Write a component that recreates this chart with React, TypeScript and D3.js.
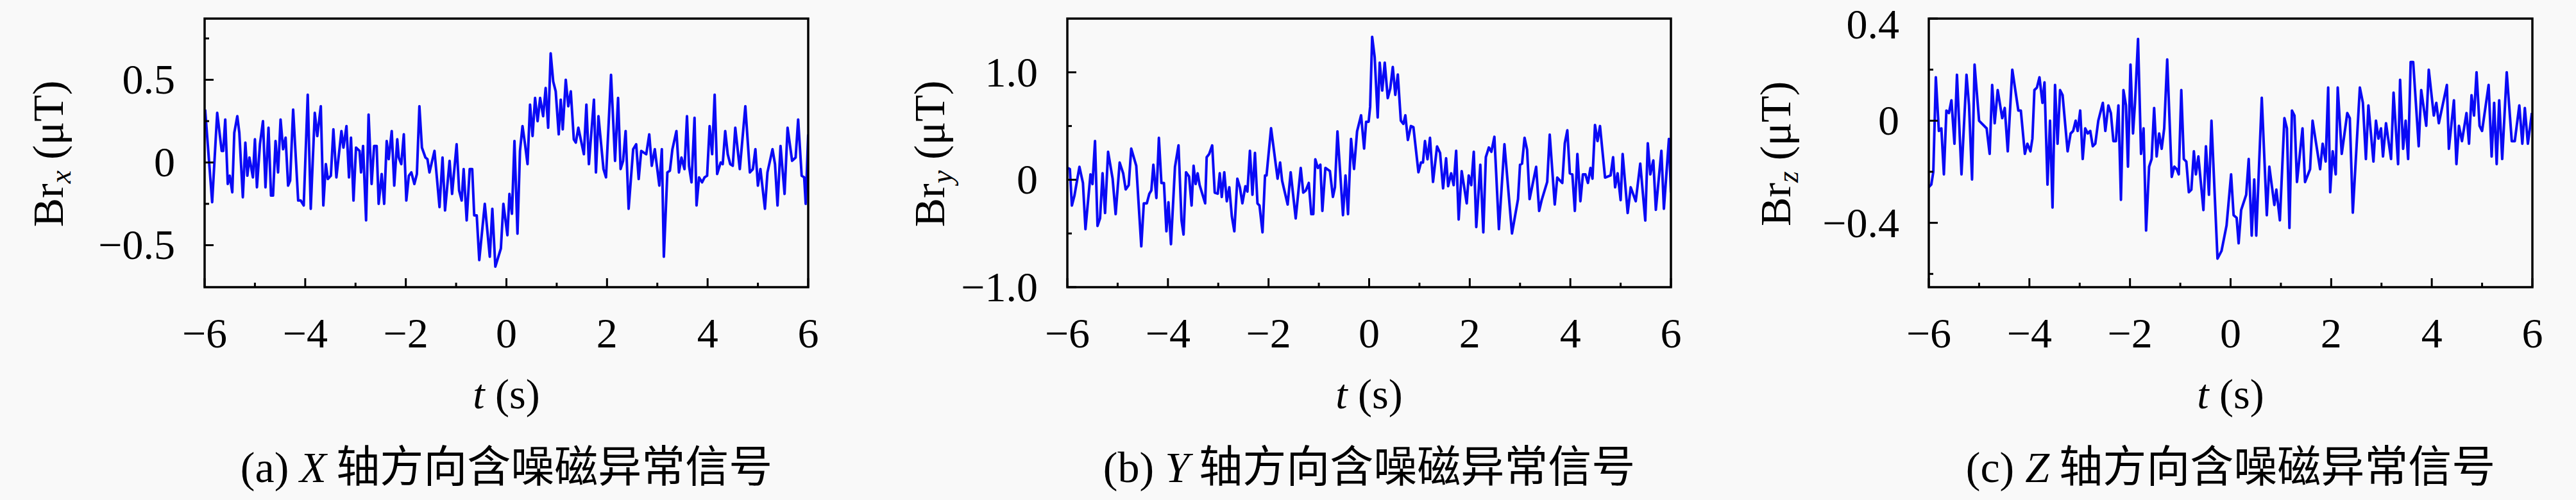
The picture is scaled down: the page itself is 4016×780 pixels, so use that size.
import * as d3 from "d3";

// time (s) and field (μT)
const T_A = [-5.99,-5.85,-5.75,-5.66,-5.63,-5.59,-5.54,-5.5,-5.45,-5.41,-5.35,-5.31,-5.24,-5.19,-5.15,-5.11,-5.08,-5.04,-5,-4.96,-4.9,-4.84,-4.79,-4.73,-4.68,-4.64,-4.59,-4.54,-4.49,-4.44,-4.39,-4.34,-4.3,-4.24,-4.14,-4.09,-4.03,-3.95,-3.89,-3.81,-3.76,-3.69,-3.64,-3.59,-3.55,-3.49,-3.44,-3.38,-3.28,-3.24,-3.18,-3.13,-3.09,-3.04,-2.99,-2.92,-2.89,-2.85,-2.79,-2.74,-2.68,-2.63,-2.58,-2.54,-2.48,-2.43,-2.38,-2.34,-2.28,-2.23,-2.17,-2.14,-2.09,-2.04,-1.99,-1.94,-1.89,-1.83,-1.78,-1.73,-1.68,-1.61,-1.57,-1.53,-1.43,-1.33,-1.27,-1.22,-1.13,-1.08,-0.99,-0.94,-0.89,-0.85,-0.79,-0.73,-0.68,-0.64,-0.59,-0.54,-0.43,-0.33,-0.28,-0.22,-0.11,-0.06,0.02,0.06,0.11,0.16,0.22,0.27,0.32,0.37,0.42,0.47,0.52,0.57,0.62,0.67,0.73,0.78,0.83,0.88,0.93,0.98,1.04,1.08,1.12,1.18,1.23,1.28,1.34,1.38,1.43,1.54,1.59,1.64,1.74,1.78,1.83,1.93,1.98,2.08,2.16,2.22,2.27,2.32,2.37,2.43,2.52,2.58,2.63,2.68,2.78,2.84,2.89,2.95,3.04,3.09,3.13,3.2,3.25,3.3,3.38,3.43,3.48,3.54,3.59,3.63,3.68,3.74,3.78,3.83,3.89,3.94,3.99,4.04,4.09,4.14,4.19,4.26,4.3,4.35,4.4,4.45,4.5,4.55,4.64,4.75,4.84,4.9,4.95,5,5.05,5.14,5.19,5.29,5.34,5.39,5.45,5.53,5.59,5.68,5.75,5.8,5.87,5.92,5.95,6];
const V_A = [0.32,-0.24,0.3,0.07,0.07,0.26,-0.13,-0.08,-0.18,0.18,0.28,0.18,-0.21,0.12,-0.08,0.03,-0.02,-0.09,0.14,-0.15,0.11,0.25,-0.15,0.21,-0.2,-0.2,0.13,-0.06,0.26,0.08,0.15,-0.14,-0.11,0.32,-0.23,-0.23,-0.26,0.41,-0.28,0.3,0.16,0.34,-0.26,-0.01,-0.1,-0.08,0.2,-0.09,0.19,0.09,0.22,-0.09,0.15,-0.23,0.09,0.07,-0.06,0.1,-0.35,0.29,-0.13,0.1,0.1,-0.25,-0.07,-0.25,0.13,0.02,0.19,-0.14,0.14,0.03,-0.01,0.17,-0.23,-0.08,-0.06,-0.13,-0.07,0.34,0.09,0.03,0.02,-0.06,0.07,-0.27,0.03,-0.29,0.01,-0.19,0.11,-0.17,-0.23,-0.04,-0.35,-0.04,-0.04,-0.32,-0.32,-0.59,-0.25,-0.57,-0.28,-0.63,-0.52,-0.25,-0.44,-0.19,-0.31,0.13,-0.43,0.07,0.22,0.11,-0.01,0.35,0.16,0.39,0.25,0.39,0.28,0.45,0.21,0.66,0.49,0.43,0.17,0.38,0.2,0.5,0.34,0.43,0.14,0.12,0.21,0.05,0.35,-0.01,0.38,-0.06,0.28,-0.04,-0.09,0.53,0.01,0.39,-0.04,0.01,0.19,-0.28,0.08,0.11,-0.1,0.07,0.05,0.17,-0.02,0.08,-0.14,0.08,-0.57,-0.06,-0.05,0.08,0.19,-0.06,0.03,-0.04,0.28,-0.02,-0.12,0.27,-0.26,-0.09,-0.12,-0.09,-0.08,0.22,0.05,0.41,-0.07,0,-0.01,0.19,0.05,-0.01,-0.02,0.21,-0.04,0.34,-0.06,-0.04,0.08,-0.14,-0.04,-0.28,-0.06,0.08,-0.01,-0.26,0.1,-0.19,0.21,0.01,0.03,0.26,-0.08,-0.09,-0.25,0.17];

const T_B = [-5.99,-5.95,-5.91,-5.86,-5.76,-5.69,-5.64,-5.54,-5.5,-5.45,-5.4,-5.35,-5.3,-5.25,-5.19,-5.1,-5.04,-4.96,-4.89,-4.84,-4.78,-4.73,-4.63,-4.53,-4.48,-4.42,-4.37,-4.33,-4.29,-4.23,-4.18,-4.13,-4.08,-4.03,-3.99,-3.94,-3.86,-3.79,-3.73,-3.69,-3.64,-3.58,-3.53,-3.49,-3.45,-3.41,-3.37,-3.26,-3.23,-3.18,-3.12,-3.07,-3.01,-2.97,-2.93,-2.88,-2.83,-2.78,-2.73,-2.68,-2.62,-2.57,-2.52,-2.46,-2.42,-2.37,-2.32,-2.27,-2.22,-2.18,-2.12,-2.07,-2.04,-1.95,-1.82,-1.77,-1.73,-1.62,-1.56,-1.46,-1.36,-1.31,-1.26,-1.2,-1.15,-1.11,-1.07,-1.02,-0.97,-0.93,-0.87,-0.78,-0.72,-0.68,-0.63,-0.52,-0.47,-0.42,-0.36,-0.3,-0.24,-0.16,-0.1,-0.06,-0.01,0.02,0.06,0.11,0.17,0.21,0.26,0.31,0.37,0.42,0.47,0.52,0.57,0.63,0.68,0.72,0.77,0.83,0.88,0.98,1.03,1.07,1.11,1.16,1.21,1.27,1.35,1.41,1.47,1.53,1.57,1.63,1.68,1.73,1.78,1.84,1.94,1.98,2.03,2.08,2.13,2.21,2.27,2.32,2.38,2.43,2.49,2.58,2.69,2.84,2.96,3,3.04,3.09,3.14,3.19,3.32,3.38,3.43,3.54,3.59,3.69,3.74,3.84,3.89,3.94,3.99,4.04,4.09,4.14,4.2,4.25,4.3,4.35,4.4,4.44,4.49,4.54,4.59,4.69,4.8,4.85,4.89,4.94,5,5.04,5.14,5.2,5.3,5.39,5.49,5.54,5.59,5.65,5.7,5.81,5.86,5.96,6];
const V_B = [0.11,0.1,-0.24,-0.15,0.12,-0.03,-0.46,0.05,-0.04,0.36,-0.43,-0.36,0.06,-0.31,0.26,0.01,-0.32,0.16,0.06,-0.09,-0.05,0.29,0.13,-0.62,-0.22,-0.22,-0.13,-0.1,0.14,-0.17,0.39,-0.03,-0.03,-0.48,-0.21,-0.6,0.12,0.32,-0.38,-0.51,0.07,0.03,-0.24,0.13,-0.04,0.06,-0.05,-0.22,0.21,0.24,0.32,-0.12,-0.13,0.06,-0.16,0.07,-0.2,-0.07,-0.34,-0.48,0.01,-0.07,-0.22,-0.06,-0.11,0.27,-0.14,0.25,-0.22,-0.24,-0.49,0.04,0.04,0.48,0.01,0.16,-0.01,-0.23,0.07,-0.36,0.11,-0.12,-0.1,-0.03,-0.32,-0.32,0.19,0.11,0.14,-0.29,0.11,0.08,-0.16,-0.07,0.45,-0.33,0.04,-0.32,0.38,0.1,0.45,0.6,0.29,0.54,0.54,0.68,1.33,1.14,0.58,1.09,0.83,1.09,0.76,0.85,1.05,0.79,0.98,0.55,0.52,0.6,0.37,0.5,0.49,0.07,0.16,0.16,0.36,0.19,0.39,-0.02,0.31,0.25,-0.08,0.2,-0.06,0.06,-0.05,0.27,-0.37,0.08,-0.22,0.04,-0.05,0.26,-0.44,0.14,-0.49,0.21,0.3,0.26,0.4,-0.46,0.33,-0.5,-0.18,0.14,0.15,0.39,0.28,-0.18,0.12,-0.29,-0.19,-0.02,0.42,-0.23,0.02,-0.03,0.34,0.46,0.06,0.05,-0.29,0.24,-0.2,0.05,0.05,-0.03,0.11,0.01,0.51,0.36,0.5,0.02,0.04,0.21,-0.07,0.06,-0.19,0.24,-0.31,-0.07,-0.2,0.15,-0.38,0.34,0.05,0.18,-0.28,0.27,-0.27,0.38,-0.12];

const T_C = [-6,-5.95,-5.91,-5.86,-5.8,-5.75,-5.7,-5.65,-5.6,-5.55,-5.49,-5.44,-5.35,-5.25,-5.2,-5.14,-5.09,-5,-4.85,-4.79,-4.74,-4.69,-4.63,-4.54,-4.49,-4.43,-4.34,-4.22,-4.17,-4.09,-4.04,-3.98,-3.94,-3.9,-3.85,-3.8,-3.74,-3.7,-3.64,-3.59,-3.54,-3.49,-3.44,-3.39,-3.34,-3.24,-3.18,-3.13,-3.08,-3.04,-2.99,-2.94,-2.89,-2.84,-2.79,-2.74,-2.69,-2.63,-2.54,-2.49,-2.43,-2.38,-2.33,-2.28,-2.23,-2.18,-2.13,-2.08,-2.04,-1.99,-1.94,-1.9,-1.84,-1.78,-1.73,-1.68,-1.62,-1.57,-1.52,-1.47,-1.42,-1.37,-1.32,-1.26,-1.17,-1.12,-1.07,-1.03,-0.98,-0.93,-0.88,-0.83,-0.78,-0.73,-0.69,-0.64,-0.54,-0.49,-0.43,-0.38,-0.26,-0.18,-0.08,0.01,0.06,0.12,0.16,0.21,0.31,0.36,0.42,0.47,0.51,0.62,0.72,0.77,0.87,0.91,0.98,1.07,1.12,1.17,1.22,1.27,1.32,1.43,1.48,1.58,1.63,1.78,1.83,1.89,1.94,1.98,2.03,2.09,2.13,2.21,2.32,2.37,2.43,2.57,2.63,2.69,2.74,2.84,2.89,2.94,2.99,3.03,3.09,3.19,3.24,3.33,3.37,3.43,3.48,3.53,3.58,3.63,3.74,3.79,3.89,3.94,4.04,4.09,4.14,4.3,4.34,4.44,4.49,4.54,4.6,4.69,4.74,4.79,4.84,4.89,4.95,5,5.13,5.19,5.24,5.29,5.34,5.4,5.49,5.59,5.65,5.74,5.8,5.85,5.91,5.99];
const V_C = [-0.26,-0.25,-0.2,0.17,-0.04,-0.03,-0.21,0.04,0.03,0.08,-0.09,0.18,-0.21,0.18,0.06,-0.23,0.22,0,-0.03,-0.13,0.14,-0.01,0.12,0.01,0.05,-0.12,0.2,0.04,0.04,-0.13,-0.09,-0.12,-0.07,0.12,0.13,0.17,0.07,0.15,-0.25,0,-0.34,0.14,-0.09,0.12,0.1,-0.12,-0.05,-0.04,0,-0.04,0.04,-0.15,-0.03,-0.05,-0.04,-0.1,-0.09,0,0.07,-0.04,0.06,0.03,-0.08,-0.08,0.06,-0.31,0.12,0.06,-0.18,0.22,-0.05,0.07,0.32,-0.13,-0.03,-0.43,-0.18,-0.15,0.05,-0.14,-0.05,-0.11,-0.03,0.24,-0.22,-0.18,-0.19,-0.21,0.12,-0.15,-0.16,-0.28,-0.27,-0.12,-0.21,-0.14,-0.35,-0.1,-0.29,0,-0.54,-0.51,-0.41,-0.21,-0.37,-0.38,-0.48,-0.35,-0.29,-0.15,-0.45,-0.23,-0.45,0.09,-0.37,-0.18,-0.33,-0.27,-0.39,0.01,-0.03,-0.42,0.04,0.02,-0.24,-0.03,-0.24,-0.19,0,-0.19,-0.09,-0.16,0.13,-0.28,-0.12,-0.21,0.13,-0.13,0.03,0.01,-0.36,0.13,0.07,-0.15,0.06,-0.16,0,-0.07,-0.03,-0.14,-0.01,-0.15,0.11,-0.17,0.16,-0.11,0,-0.15,0.23,0.23,-0.1,0.12,-0.02,0.2,0.02,0.07,-0.01,0.14,-0.11,0.08,-0.17,-0.02,-0.08,0.03,-0.09,0.1,0.02,0.19,-0.02,-0.04,0.14,-0.14,0.07,-0.17,0.08,-0.15,0.19,-0.08,-0.08,0.06,-0.09,0.05,-0.09,0.03];

const X_MAJOR = [-6, -4, -2, 0, 2, 4, 6];
const X_MINOR = [-5, -3, -1, 1, 3, 5];
const X_LABELS = ["−6", "−4", "−2", "0", "2", "4", "6"];

const PANELS = [
  { id: "a", axis: "X", sub: "x", t: T_A, v: V_A, domain: [-0.754, 0.87], major: [-0.5, 0, 0.5], minor: [-0.25, 0.25, 0.75], labels: ["−0.5", "0", "0.5"], left: 319, ylab: 98 },
  { id: "b", axis: "Y", sub: "y", t: T_B, v: V_B, domain: [-1, 1.5], major: [-1, 0, 1], minor: [-0.5, 0.5], labels: ["−1.0", "0", "1.0"], left: 1664, ylab: 1472 },
  { id: "c", axis: "Z", sub: "z", t: T_C, v: V_C, domain: [-0.652, 0.4], major: [-0.4, 0, 0.4], minor: [-0.6, -0.2, 0.2], labels: ["−0.4", "0", "0.4"], left: 3007, ylab: 2791 },
];

const W = 4016;
const H = 780;
const PW = 941;
const TOP = 29;
const BOTTOM = 448;
const SERIF = "'Liberation Serif', 'DejaVu Serif', serif";
const CJK = "'Noto Sans CJK SC', sans-serif";

function Panel({ p }: { p: (typeof PANELS)[number] }) {
  const x = d3.scaleLinear().domain([-6, 6]).range([p.left, p.left + PW]);
  const y = d3.scaleLinear().domain(p.domain).range([BOTTOM, TOP]);
  const pts = p.t.map((t, i) => [t, p.v[i]] as [number, number]);
  const path = d3.line<[number, number]>().x(d => x(d[0])).y(d => y(d[1]))(pts) ?? "";
  const cx = p.left + PW / 2;
  const clipId = `clip-${p.id}`;

  return (
    <g>
      <defs>
        <clipPath id={clipId}>
          <rect x={p.left} y={TOP} width={PW} height={BOTTOM - TOP} />
        </clipPath>
      </defs>
      <path d={path} fill="none" stroke="#0a0af5" strokeWidth={4} strokeLinejoin="round" clipPath={`url(#${clipId})`} />
      <rect x={p.left} y={TOP} width={PW} height={BOTTOM - TOP} fill="none" stroke="#000" strokeWidth={3.5} />
      <g stroke="#000" strokeWidth={3}>
        {X_MAJOR.map(d => <line key={"xM" + d} x1={x(d)} x2={x(d)} y1={BOTTOM} y2={BOTTOM - 14} />)}
        {X_MINOR.map(d => <line key={"xm" + d} x1={x(d)} x2={x(d)} y1={BOTTOM} y2={BOTTOM - 7} />)}
        {p.major.map(d => <line key={"yM" + d} x1={p.left} x2={p.left + 14} y1={y(d)} y2={y(d)} />)}
        {p.minor.map(d => <line key={"ym" + d} x1={p.left} x2={p.left + 7} y1={y(d)} y2={y(d)} />)}
      </g>
      <g fontFamily={SERIF} fontSize={66} fill="#000">
        {X_MAJOR.map((d, i) => (
          <text key={"xl" + d} x={x(d)} y={542} textAnchor="middle">{X_LABELS[i]}</text>
        ))}
        {p.major.map((d, i) => (
          <text key={"yl" + d} x={p.left - 46} y={Math.max(y(d) + 22, 60)} textAnchor="end">{p.labels[i]}</text>
        ))}
      </g>
      <text x={cx} y={637} textAnchor="middle" fontFamily={SERIF} fontSize={66}>
        <tspan fontStyle="italic">t</tspan> (s)
      </text>
      <text transform={`translate(${p.ylab},240) rotate(-90)`} textAnchor="middle" fontFamily={SERIF} fontSize={68}>
        Br<tspan fontStyle="italic" fontSize={46} dy={12}>{p.sub}</tspan>
        <tspan dy={-12}> (μT)</tspan>
      </text>
      <text x={cx} y={752} textAnchor="middle" fontSize={68}>
        <tspan fontFamily={SERIF}>({p.id}) </tspan>
        <tspan fontFamily={SERIF} fontStyle="italic">{p.axis}</tspan>
        <tspan fontFamily={CJK}> 轴方向含噪磁异常信号</tspan>
      </text>
    </g>
  );
}

export default function App() {
  return (
    <svg width={W} height={H} viewBox={`0 0 ${W} ${H}`} style={{ position: "absolute", left: 0, top: 0 }}>
      <rect width={W} height={H} fill="#f9f9f9" />
      {PANELS.map(p => <Panel key={p.id} p={p} />)}
    </svg>
  );
}
